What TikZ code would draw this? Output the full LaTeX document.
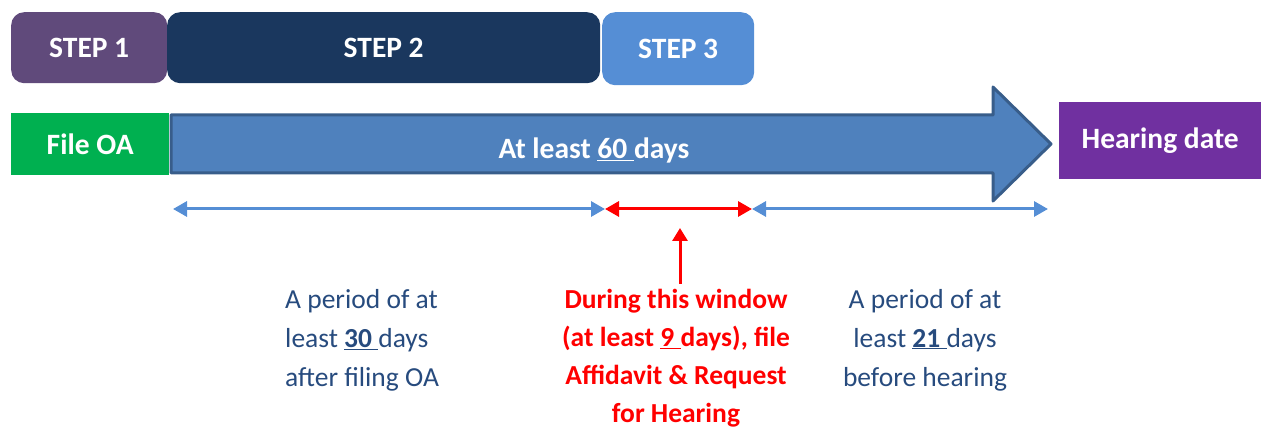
\documentclass[tikz,border=0pt]{standalone}
\usepackage{fontspec}
\setmainfont{Carlito}
\usetikzlibrary{arrows.meta}
\definecolor{stepone}{HTML}{604A7B}
\definecolor{steptwo}{HTML}{1A375E}
\definecolor{stepthree}{HTML}{558ED5}
\definecolor{filegreen}{HTML}{00B050}
\definecolor{arrowfill}{HTML}{4F81BD}
\definecolor{arrowline}{HTML}{385D8A}
\definecolor{hearpurple}{HTML}{7030A0}
\definecolor{textblue}{HTML}{274B7E}
\definecolor{periodblue}{HTML}{558ED5}
\tikzset{
  stepbox/.style={rounded corners=13pt, inner sep=0pt, text=white,
    font=\fontsize{29.5}{32}\selectfont\bfseries},
  flatbox/.style={inner sep=0pt, text=white,
    font=\fontsize{29.5}{32}\selectfont\bfseries},
  period/.style={draw=periodblue, line width=3pt,
    {Triangle[length=14pt,width=15pt]}-{Triangle[length=14pt,width=15pt]}},
  window/.style={draw=red, line width=3pt,
    {Triangle[length=14pt,width=15pt]}-{Triangle[length=14pt,width=15pt]}},
  note/.style={inner sep=0pt, font=\fontsize{27.5}{39}\selectfont},
}
\begin{document}
\begin{tikzpicture}[x=1pt,y=-1pt]
\useasboundingbox (0,0) rectangle (1261,427);
% step boxes
\node[stepbox, fill=stepone, minimum width=156pt, minimum height=71pt, anchor=north west] (s1) at (11,12) {STEP 1};
\node[stepbox, fill=steptwo, minimum width=433pt, minimum height=71pt, anchor=north west] (s2) at (167,12) {STEP 2};
\node[stepbox, fill=stepthree, minimum width=152pt, minimum height=73pt, anchor=north west] (s3) at (602,12) {STEP 3};
% file OA
\node[flatbox, fill=filegreen, minimum width=158pt, minimum height=62pt, anchor=north west] (fileoa) at (11,113) {File OA};
% big arrow
\draw[fill=arrowfill, draw=arrowline, line width=3pt, line join=round]
  (171,115) -- (993,115) -- (993,87) -- (1051,144) -- (993,201) -- (993,173) -- (171,173) -- cycle;
\node[flatbox, anchor=base] (sixty) at (594,159) {At least \underline{60\ }days};
% hearing date
\node[flatbox, fill=hearpurple, minimum width=202pt, minimum height=77pt, anchor=north west] (hearing) at (1059,102) {Hearing date};
% periods
\coordinate (p0) at (173,209);
\coordinate (p1) at (605,209);
\coordinate (p2) at (752,209);
\coordinate (p3) at (1048,209);
\draw[period] (p0) -- (p1);
\draw[window] (p1) -- (p2);
\draw[period] (p2) -- (p3);
% red pointer
\coordinate (ptail) at (680,284);
\coordinate (phead) at (680,228);
\draw[draw=red, line width=3pt, -{Triangle[length=13pt,width=15pt]}] (ptail) -- (phead);
% notes
\node[note, text=textblue, align=left, anchor=north west] (left) at (285,289)
  {A period of at\\ least \textbf{\underline{30\ }}days\\ after filing OA};
\node[note, text=red, align=center, anchor=north, font=\fontsize{27.5}{38}\selectfont\bfseries] (mid) at (676,289)
  {During this window\\ (at least \underline{9\ }days), file\\ Affidavit \& Request\\ for Hearing};
\node[note, text=textblue, align=center, anchor=north] (right) at (925,289)
  {A period of at\\ least \textbf{\underline{21\ }}days\\ before hearing};
\end{tikzpicture}
\end{document}
